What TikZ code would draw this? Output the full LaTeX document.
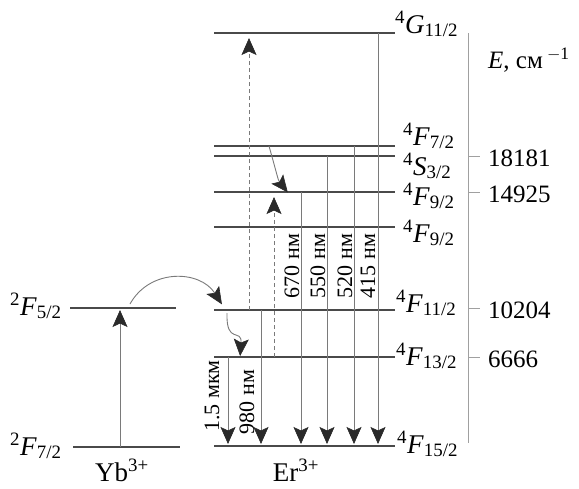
\documentclass[tikz,border=0pt]{standalone}
\usepackage{fontspec}
\setmainfont{Liberation Serif}
\usepackage{tikz}
\usetikzlibrary{arrows.meta,calc}
\definecolor{Lev}{HTML}{4A4A4A}
\definecolor{Trans}{HTML}{7A7A7A}
\definecolor{Axis}{HTML}{A0A0A0}
\definecolor{Tip}{HTML}{2A2A2A}
\newcommand{\term}[3]{\textsuperscript{#1}\textit{#2}\textsubscript{#3}}
\tikzset{Tp/.tip={Stealth[length=17pt, width=15pt, inset=3.5pt, color=Tip, fill=Tip, line width=0.6pt]}}

\begin{document}
\begin{tikzpicture}[
      x=1pt, y=-1pt,
      lev/.style={draw=Lev, line width=1.4pt},
      tr/.style={draw=Trans, line width=0.9pt},
      dn/.style={tr, -Tp, shorten >=2pt},
      up/.style={tr, dashed, dash pattern=on 4pt off 3pt, -Tp, shorten >=5pt},
      lab/.style={inner sep=0pt, font=\fontsize{27}{30}\selectfont},
      wl/.style={inner sep=0pt, rotate=90, font=\fontsize{22}{24}\selectfont},
      num/.style={inner sep=0pt, anchor=west, font=\fontsize{25}{28}\selectfont}
    ]
    \useasboundingbox (0,0) rectangle (579,488);

    \foreach \n/\y in {G/33, F7/146, S3/156, F9/192, F9b/227, F11/310, F13/357, F15/446} {
      \coordinate (\n) at (214,\y);
      \draw[lev] (\n) -- (395,\y);
    }
    \coordinate (Yb5) at (70,308);
    \coordinate (Yb7) at (73,447);
    \draw[lev] (Yb5) -- (176,308);
    \draw[lev] (Yb7) -- (180,447);

    \node[lab, anchor=base west] (tG) at (395,33) {\term{4}{G}{11/2}};
    \node[lab, anchor=base west] (tF7) at (403,145) {\term{4}{F}{7/2}};
    \node[lab, anchor=base west] (tS3) at (403,175) {\term{4}{S}{3/2}};
    \node[lab, anchor=base west] (tF9) at (403,205) {\term{4}{F}{9/2}};
    \node[lab, anchor=base west] (tF9b) at (403,242) {\term{4}{F}{9/2}};
    \node[lab, anchor=base west] (tF11) at (396,312) {\term{4}{F}{11/2}};
    \node[lab, anchor=base west] (tF13) at (396,365) {\term{4}{F}{13/2}};
    \node[lab, anchor=base west] (tF15) at (397,453) {\term{4}{F}{15/2}};
    \node[lab, anchor=base west] (tYb5) at (10,315) {\term{2}{F}{5/2}};
    \node[lab, anchor=base west] (tYb7) at (10,455) {\term{2}{F}{7/2}};
    \node[lab, anchor=base] (yb) at (122,481) {Yb\textsuperscript{3+}};
    \node[lab, anchor=base] (er) at (296,481) {Er\textsuperscript{3+}};

    \coordinate (ax) at (468,33);
    \coordinate (axb) at (468,443);
    \draw[draw=Axis, line width=1pt] (ax) -- (axb);
    \foreach \n/\y/\v in {a/156/18181, b/192/14925, c/308/10204, d/357/6666} {
      \coordinate (k\n) at (468,\y);
      \draw[draw=Axis, line width=1pt] (k\n) -- ++(12,0);
      \node[num] (n\n) at (488,\y+2) {\v};
    }
    \node[num] (unit) at (488,60) {\textit{E}, см\,\textsuperscript{$-$1}};

    \coordinate (cyb) at (120,0);
    \coordinate (c15) at (228,0);
    \coordinate (cup1) at (249,0);
    \coordinate (c980) at (261,0);
    \coordinate (cup2) at (274,0);
    \coordinate (c670) at (301,0);
    \coordinate (c550) at (327,0);
    \coordinate (c520) at (354,0);
    \coordinate (c415) at (378,0);

    \draw[dn] (cyb |- Yb7) -- (cyb |- Yb5);
    \draw[up] (cup1 |- F11) -- (cup1 |- G);
    \draw[up] (cup2 |- F13) -- (cup2 |- F9);
    \draw[dn] (c15 |- F13) -- (c15 |- F15);
    \draw[dn] (c980 |- F11) -- (c980 |- F15);
    \draw[dn] (c670 |- F9) -- (c670 |- F15);
    \draw[dn] (c550 |- S3) -- (c550 |- F15);
    \draw[dn] (c520 |- F7) -- (c520 |- F15);
    \draw[dn] (c415 |- G) -- (c415 |- F15);

    \coordinate (cA) at (130,304);
    \coordinate (cB) at (223,306);
    \draw[dn] (cA) .. controls (150,268) and (200,270) .. (cB);
    \coordinate (cC) at (269,146);
    \coordinate (cD) at (289,194);
    \draw[dn] (cC) .. controls (278,178) and (278,180) .. (cD);
    \coordinate (cE) at (227,313);
    \coordinate (cF) at (240,358);
    \draw[dn] (cE) .. controls (226,345) and (242,328) .. (cF);

    \node[wl] (w15) at (212,396) {1.5 мкм};
    \node[wl] (w980) at (247,402) {980 нм};
    \node[wl] (w670) at (292,266) {670 нм};
    \node[wl] (w550) at (318,266) {550 нм};
    \node[wl] (w520) at (345,266) {520 нм};
    \node[wl] (w415) at (368,266) {415 нм};
  \end{tikzpicture}
\end{document}
